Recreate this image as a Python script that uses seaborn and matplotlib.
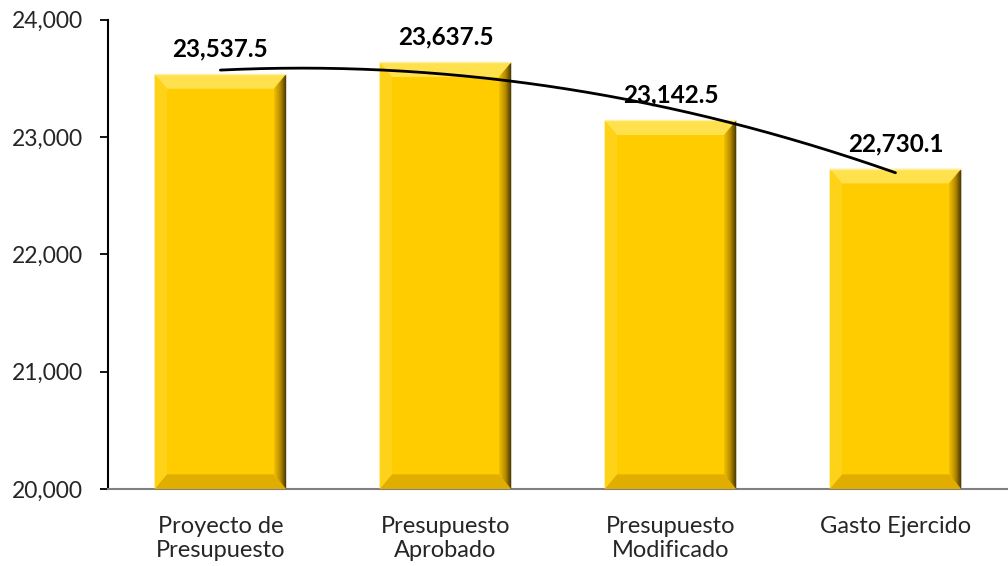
import numpy as np
import pandas as pd
import seaborn as sns
import matplotlib.pyplot as plt
from matplotlib.patches import Polygon
from matplotlib.ticker import FuncFormatter

categorias = ['Proyecto de\nPresupuesto', 'Presupuesto\nAprobado', 'Presupuesto\nModificado', 'Gasto Ejercido']
valores = [23537.5, 23637.5, 23142.5, 22730.1]
etiquetas = ['23,537.5', '23,637.5', '23,142.5', '22,730.1']

sns.set_style('white')
plt.rcParams['font.family'] = ['Lato', 'DejaVu Sans']

df = pd.DataFrame({'cat': categorias, 'val': valores})

fig = plt.figure(figsize=(10.08, 5.66), dpi=100)
ax = fig.add_axes([0.107, 0.136, 0.893, 0.829])

sns.barplot(data=df, x='cat', y='val', color='#FFCC00', width=0.585,
            saturation=1, ax=ax, zorder=2)
ax.set_ylim(20000, 24000)
ax.set_xlim(-0.5, 3.5)

# bisel de las barras
bx = 0.055
by = 125
cmap = plt.matplotlib.colors.LinearSegmentedColormap.from_list(
    'bisel', ['#F2C000', '#B58A00', '#3A2C00'])
for p in ax.patches:
    x0, y0 = p.get_x(), 20000
    x1, y1 = p.get_x() + p.get_width(), p.get_height()
    ax.add_patch(Polygon([[x0, y1], [x1, y1], [x1 - bx, y1 - by], [x0 + bx, y1 - by]],
                         closed=True, color='#FFE14D', zorder=3, lw=0))
    ax.add_patch(Polygon([[x0, y0], [x1, y0], [x1 - bx, y0 + by], [x0 + bx, y0 + by]],
                         closed=True, color='#E0AE00', zorder=3, lw=0))
    ax.add_patch(Polygon([[x0, y0], [x0 + bx, y0 + by], [x0 + bx, y1 - by], [x0, y1]],
                         closed=True, color='#FFD21A', zorder=3, lw=0))
    right = Polygon([[x1, y0], [x1 - bx, y0 + by], [x1 - bx, y1 - by], [x1, y1]],
                    closed=True, color='none', zorder=3, lw=0)
    ax.add_patch(right)
    grad = np.linspace(0, 1, 64).reshape(1, -1)
    im = ax.imshow(grad, extent=[x1 - bx, x1, y0, y1], aspect='auto',
                   cmap=cmap, zorder=3, interpolation='bilinear')
    im.set_clip_path(right)
    ax.plot([x0, x1], [y1, y1], color='#FFF0A0', lw=1, zorder=4)

ax.set_xlim(-0.5, 3.5)
ax.set_ylim(20000, 24000)

# linea de tendencia polinomica
xs = np.arange(len(valores))
coef = np.polyfit(xs, valores, 2)
xx = np.linspace(0, 3, 200)
ax.plot(xx, np.polyval(coef, xx), color='black', lw=2, zorder=5)

for i, (v, t) in enumerate(zip(valores, etiquetas)):
    ax.text(i, v + 150, t, ha='center', va='baseline', fontsize=17.5,
            fontweight='bold', color='black', zorder=6)

ax.set_yticks([20000, 21000, 22000, 23000, 24000])
ax.yaxis.set_major_formatter(FuncFormatter(lambda v, _: f'{v:,.0f}'))
ax.tick_params(axis='y', left=True, length=6, width=1.3, color='black',
               labelsize=16.5, pad=12)
ax.tick_params(axis='x', bottom=False, labelsize=17, pad=16)
for lbl in ax.get_xticklabels():
    lbl.set_linespacing(1.15)
ax.set_xlabel('')
ax.set_ylabel('')

for s in ['top', 'right']:
    ax.spines[s].set_visible(False)
ax.spines['left'].set_color('black')
ax.spines['left'].set_linewidth(1.5)
ax.spines['bottom'].set_color('#808080')
ax.spines['bottom'].set_linewidth(1.5)

fig.savefig('out.png', dpi=100)
